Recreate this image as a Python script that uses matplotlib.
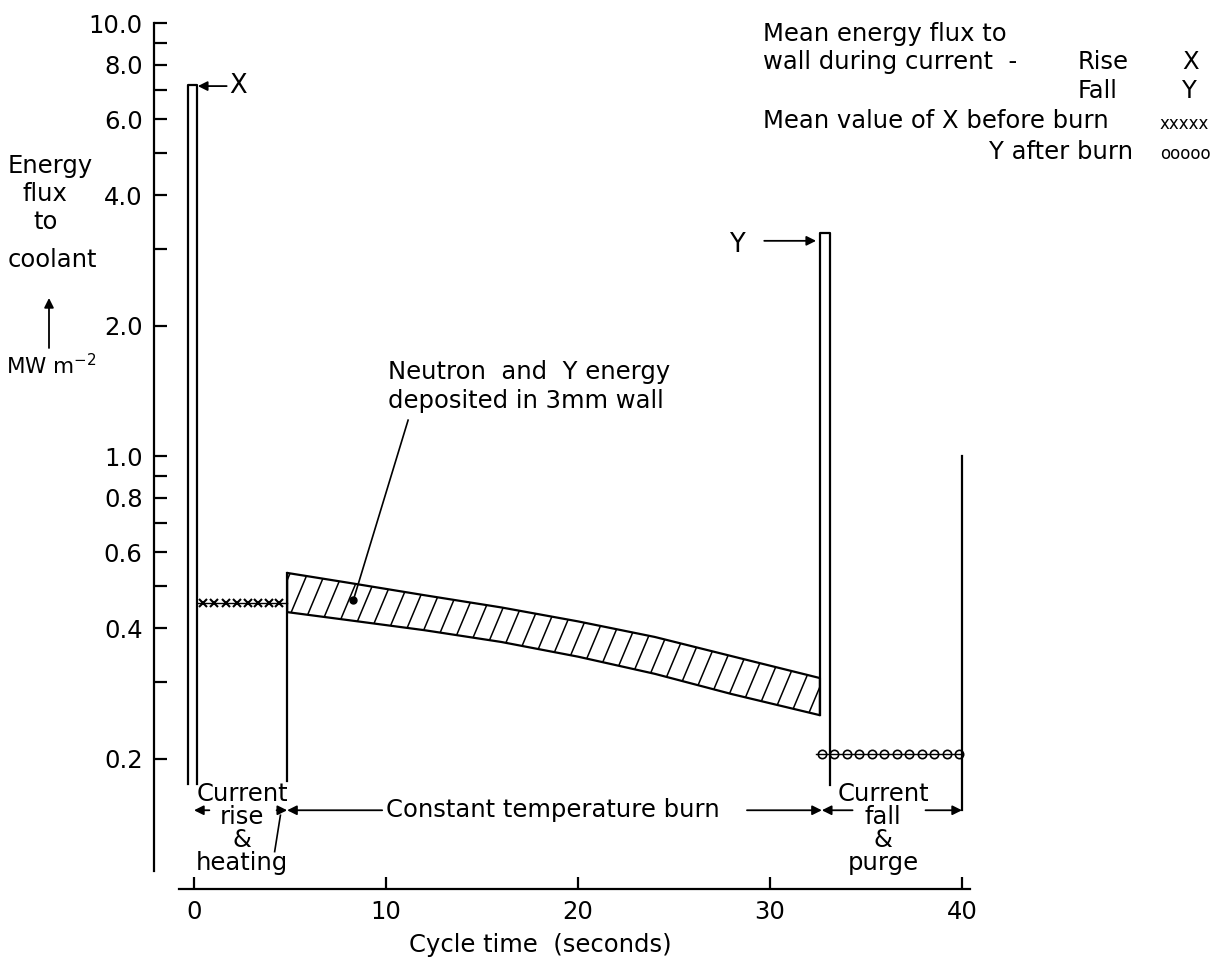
import numpy as np
import matplotlib.pyplot as plt
from matplotlib.collections import LineCollection
from matplotlib.ticker import FixedLocator, FixedFormatter, NullLocator

# ---- data ----
# y axis ticks (log scale, MW m^-2)
ytick_vals = [0.2, 0.3, 0.4, 0.5, 0.6, 0.7, 0.8, 0.9, 1.0,
              2.0, 3.0, 4.0, 5.0, 6.0, 7.0, 8.0, 9.0, 10.0]
ytick_labels = ['0.2', '', '0.4', '', '0.6', '', '0.8', '', '1.0',
                '2.0', '', '4.0', '', '6.0', '', '8.0', '', '10.0']
xtick_vals = [0, 10, 20, 30, 40]

# current rise spike (X)
spike_x_t = [-0.3, -0.3, 0.15, 0.15]
spike_x_v = [0.175, 7.2, 7.2, 0.175]

# current fall spike (Y)
spike_y_t = [32.6, 32.6, 33.15, 33.15]
spike_y_v = [0.252, 3.27, 3.27, 0.174]

# neutron + gamma energy band during burn
band_t = [4.85, 8.0, 12.0, 16.0, 20.0, 24.0, 28.0, 32.6]
band_top = [0.537, 0.51, 0.477, 0.447, 0.415, 0.382, 0.345, 0.307]
band_bot = [0.436, 0.418, 0.396, 0.372, 0.344, 0.314, 0.282, 0.252]

# rise edge of burn and end of purge
rise_t = [4.85, 4.85]
rise_v = [0.178, 0.537]
end_t = [40.0, 40.0]
end_v = [1.0, 0.152]

# mean value of X before burn (crosses)
cross_t = [0.45, 1.05, 1.65, 2.25, 2.8, 3.35, 3.9, 4.45]
cross_level = 0.458
# mean value of Y after burn (circles)
circ_t = [32.7, 33.35, 34.0, 34.65, 35.3, 35.95, 36.6, 37.25, 37.9, 38.55, 39.2, 39.85]
circ_level = 0.205

W, H = 1223, 968
fig = plt.figure(figsize=(W / 100, H / 100), dpi=100)
ax = fig.add_axes([153.7 / W, 79 / H, 837.1 / W, 866 / H])


def fx(px):
    return px / W


def fy(py):
    return 1 - py / H


FS = 17.5
lw = 1.6

ax.set_yscale('log')
ax.set_xlim(-2.1, 41.5)
ax.set_ylim(0.1, 10)

for s in ['top', 'right']:
    ax.spines[s].set_visible(False)
ax.spines['left'].set_bounds(0.11, 10)
ax.spines['bottom'].set_bounds(-0.8, 40.4)
ax.spines['left'].set_linewidth(lw)
ax.spines['bottom'].set_linewidth(lw)

ax.yaxis.set_major_locator(FixedLocator(ytick_vals))
ax.yaxis.set_major_formatter(FixedFormatter(ytick_labels))
ax.yaxis.set_minor_locator(NullLocator())
ax.set_xticks(xtick_vals)
ax.set_xticklabels([str(v) for v in xtick_vals])
ax.tick_params(axis='both', direction='in', length=9, width=lw, labelsize=FS, pad=8)

# spikes
ax.plot(spike_x_t, spike_x_v, color='black', lw=lw)
ax.plot(spike_y_t, spike_y_v, color='black', lw=lw)

# hatched band: outline plus steep hand-drawn style hatching clipped to it
band = ax.fill_between(band_t, band_bot, band_top, facecolor='none', edgecolor='black', lw=lw)
ax_w, ax_h = 837.1, 866.0          # axes size in px
step = 17.5 / ax_w                 # hatch spacing (axes fraction)
lean = 0.42 * ax_h / ax_w          # horizontal run per unit height (about 67 deg)
segs = [[(x0, 0.0), (x0 + lean, 1.0)] for x0 in np.arange(-lean, 1.0, step)]
hatch = LineCollection(segs, colors='black', linewidths=1.1, transform=ax.transAxes)
ax.add_collection(hatch)
hatch.set_clip_path(band.get_paths()[0], ax.transData)

ax.plot(rise_t, rise_v, color='black', lw=lw)
ax.plot(end_t, end_v, color='black', lw=lw)

# mean value rows
ax.plot([0.15, 4.85], [cross_level, cross_level], color='black', lw=1.0)
ax.plot(cross_t, [cross_level] * len(cross_t), 'x', color='black', ms=6, mew=1.5)
ax.plot([32.4, 40.0], [circ_level, circ_level], color='black', lw=1.0)
ax.plot(circ_t, [circ_level] * len(circ_t), 'o', color='black', mfc='none', ms=6, mew=1.2)

arrow = dict(arrowstyle='-|>', color='black', lw=1.3, mutation_scale=14, shrinkA=0, shrinkB=0)

# spike labels
ax.annotate('', xy=(0.2, 7.15), xytext=(1.7, 7.15), arrowprops=arrow)
ax.text(1.85, 7.15, 'X', fontsize=FS + 1, va='center', ha='left')
ax.annotate('', xy=(32.4, 3.14), xytext=(29.7, 3.14), arrowprops=arrow)
ax.text(28.3, 3.07, 'Y', fontsize=FS + 1, va='center', ha='center')

# band annotation
ax.text(10.1, 1.45, 'Neutron  and  Y energy\ndeposited in 3mm wall', fontsize=FS,
        ha='left', va='center', linespacing=1.25)
ax.plot([11.15, 8.3], [1.21, 0.465], color='black', lw=1.2)
ax.plot([8.3], [0.465], 'o', color='black', ms=5)

# phase dimension lines
dim_y = 0.152
ax.annotate('', xy=(0.0, dim_y), xytext=(0.8, dim_y), arrowprops=arrow)
ax.annotate('', xy=(4.85, dim_y), xytext=(4.3, dim_y), arrowprops=arrow)
ax.plot([4.5, 4.2], [0.148, 0.122], color='black', lw=1.2)
ax.text(2.5, 0.138, 'Current\nrise\n&\nheating', fontsize=FS, ha='center', va='center',
        linespacing=0.95)
ax.annotate('', xy=(4.85, dim_y), xytext=(9.8, dim_y), arrowprops=arrow)
ax.text(18.7, dim_y, 'Constant temperature burn', fontsize=FS, ha='center', va='center')
ax.annotate('', xy=(32.7, dim_y), xytext=(28.8, dim_y), arrowprops=arrow)
ax.annotate('', xy=(32.7, dim_y), xytext=(34.3, dim_y), arrowprops=arrow)
ax.text(35.9, 0.138, 'Current\nfall\n&\npurge', fontsize=FS, ha='center', va='center',
        linespacing=0.95)
ax.annotate('', xy=(40.0, dim_y), xytext=(38.1, dim_y), arrowprops=arrow)

# axis labels
fig.text(fx(540), fy(945), 'Cycle time  (seconds)', fontsize=FS, ha='center', va='center')
for txt, (px, py) in zip(['Energy', 'flux', 'to', 'coolant'],
                         [(50, 166), (45, 194), (46, 222), (52, 260)]):
    fig.text(fx(px), fy(py), txt, fontsize=FS, ha='center', va='center')
ax.annotate('', xy=(fx(49), fy(298)), xytext=(fx(49), fy(348)),
            xycoords='figure fraction', textcoords='figure fraction', arrowprops=arrow)
fig.text(fx(51), fy(366), 'MW m$^{-2}$', fontsize=15.5, ha='center', va='center')

# key, top right
fig.text(fx(763), fy(34), 'Mean energy flux to', fontsize=FS, va='center')
fig.text(fx(763), fy(62), 'wall during current  -', fontsize=FS, va='center')
fig.text(fx(1078), fy(62), 'Rise', fontsize=FS, va='center')
fig.text(fx(1182), fy(62), 'X', fontsize=FS, va='center')
fig.text(fx(1078), fy(91), 'Fall', fontsize=FS, va='center')
fig.text(fx(1182), fy(91), 'Y', fontsize=FS, va='center')
fig.text(fx(763), fy(121), 'Mean value of X before burn', fontsize=FS, va='center')
fig.text(fx(1160), fy(124), 'xxxxx', fontsize=12, va='center')
fig.text(fx(1133), fy(152), 'Y after burn', fontsize=FS, va='center', ha='right')
fig.text(fx(1160), fy(154), 'ooooo', fontsize=12, va='center')

fig.savefig('out.png', dpi=100)
